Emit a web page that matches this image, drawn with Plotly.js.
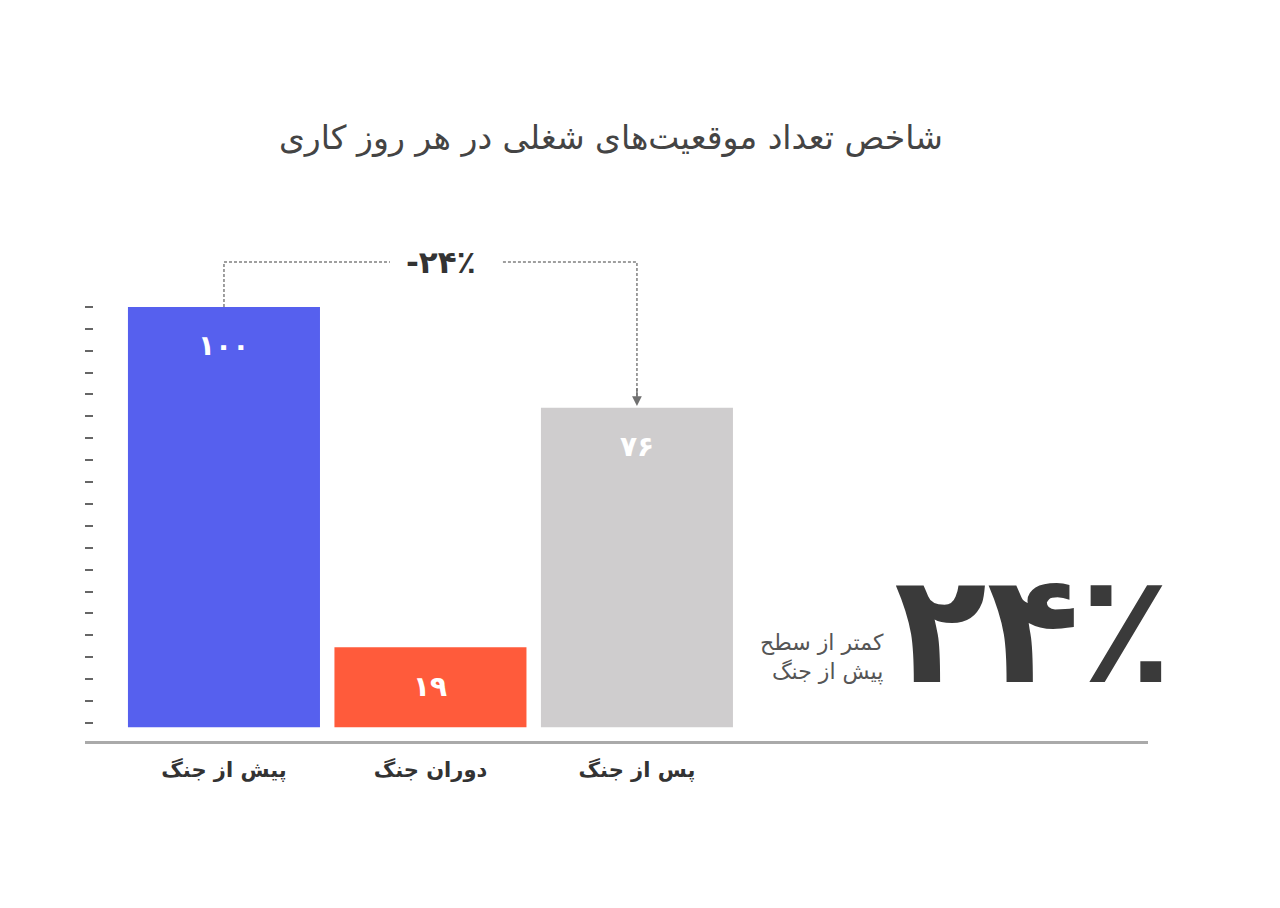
<!DOCTYPE html>
<html>
<head>
<meta charset="utf-8">
<script src="https://cdn.plot.ly/plotly-3.0.1.min.js"></script>
<style>
  body { margin: 0; background: #fff; }
  #chart { width: 1280px; height: 908px; }
</style>
</head>
<body>
<div id="chart"></div>
<script>
// values
var periods = ['پیش از جنگ', 'دوران جنگ', 'پس از جنگ'];
var jobIndex = [100, 19, 76];
var valueLabels = ['۱۰۰', '۱۹', '۷۶'];
var barColors = ['#5660ee', '#ff5b3b', '#cfcdce'];

var changeLabel = '-۲۴٪';
var bigNumber = '۲۴٪';
var bigNote = 'کمتر از سطح<br>پیش از جنگ';
var chartTitle = 'شاخص تعداد موقعیت‌های شغلی در هر روز کاری';

var faFont = 'DejaVu Sans, Noto Sans, sans-serif';

var trace = {
  type: 'bar',
  x: periods,
  y: jobIndex,
  width: 0.93,
  marker: { color: barColors, line: { width: 0 } },
  hoverinfo: 'skip'
};

// value labels sit inside the top of each bar
var annots = periods.map(function (p, i) {
  return {
    x: p, y: jobIndex[i], xref: 'x', yref: 'y',
    text: valueLabels[i], showarrow: false,
    yanchor: 'middle', yshift: -39,
    font: { family: faFont, size: 28, color: '#ffffff', weight: 'bold' }
  };
});

var bracketY = 110.7;

annots.push({
  x: 1.05, y: bracketY, xref: 'x', yref: 'y',
  text: changeLabel, showarrow: false,
  font: { family: faFont, size: 31, color: '#333333', weight: 'bold' }
});

// arrow head onto the post-war bar
annots.push({
  x: 2, y: jobIndex[2] + 0.4, xref: 'x', yref: 'y',
  ax: 2, ay: jobIndex[2] + 5, axref: 'x', ayref: 'y',
  text: '', showarrow: true, arrowhead: 2, arrowsize: 1.3,
  arrowwidth: 1.5, arrowcolor: '#707070'
});

annots.push({
  x: 3.92, y: 23.3, xref: 'x', yref: 'y',
  text: bigNumber, showarrow: false, xanchor: 'center',
  font: { family: faFont, size: 152, color: '#3a3a3a', weight: 'bold' }
});

var plotL = 85, plotR = 1148, plotT = 180, plotB = 741;

annots.push({
  x: (886 - plotL) / (plotR - plotL), y: (plotB - 657) / (plotB - plotT),
  xref: 'paper', yref: 'paper',
  text: bigNote, showarrow: false, align: 'right',
  xanchor: 'right', yanchor: 'middle',
  font: { family: faFont, size: 22, color: '#555555' }
});

// left-side tick marks from 1 to 100
var tickPos = [];
for (var i = 0; i < 20; i++) tickPos.push(1 + i * 99 / 19);

var layout = {
  width: 1280,
  height: 908,
  margin: { l: plotL, r: 1280 - plotR, t: plotT, b: 908 - plotB },
  paper_bgcolor: '#ffffff',
  plot_bgcolor: '#ffffff',
  showlegend: false,
  title: {
    text: chartTitle,
    x: 611 / 1280, xref: 'container', xanchor: 'center',
    y: 1 - 137 / 908, yref: 'container', yanchor: 'middle',
    font: { family: faFont, size: 33, color: '#444444' }
  },
  xaxis: {
    type: 'category',
    range: [-0.673, 4.475],
    showgrid: false,
    zeroline: false,
    showline: true,
    linecolor: '#aaaaaa',
    linewidth: 3,
    ticks: '',
    tickfont: { family: faFont, size: 21, color: '#333333', weight: 'bold' },
    ticklabelstandoff: 8
  },
  yaxis: {
    range: [-3.3, 130.2],
    showgrid: false,
    zeroline: false,
    showline: false,
    showticklabels: false,
    tickmode: 'array',
    tickvals: tickPos,
    ticks: 'inside',
    ticklen: 8,
    tickwidth: 2,
    tickcolor: '#666666'
  },
  shapes: [
    {
      type: 'path', xref: 'x', yref: 'y',
      path: 'M 0,' + jobIndex[0] + ' L 0,' + bracketY + ' L 0.804,' + bracketY,
      line: { color: '#808080', width: 1.5, dash: '3px,2px' }
    },
    {
      type: 'path', xref: 'x', yref: 'y',
      path: 'M 1.351,' + bracketY + ' L 2,' + bracketY + ' L 2,' + (jobIndex[2] + 2),
      line: { color: '#808080', width: 1.5, dash: '3px,2px' }
    }
  ],
  annotations: annots
};

Plotly.newPlot('chart', [trace], layout, { staticPlot: true, displayModeBar: false });
</script>
</body>
</html>
